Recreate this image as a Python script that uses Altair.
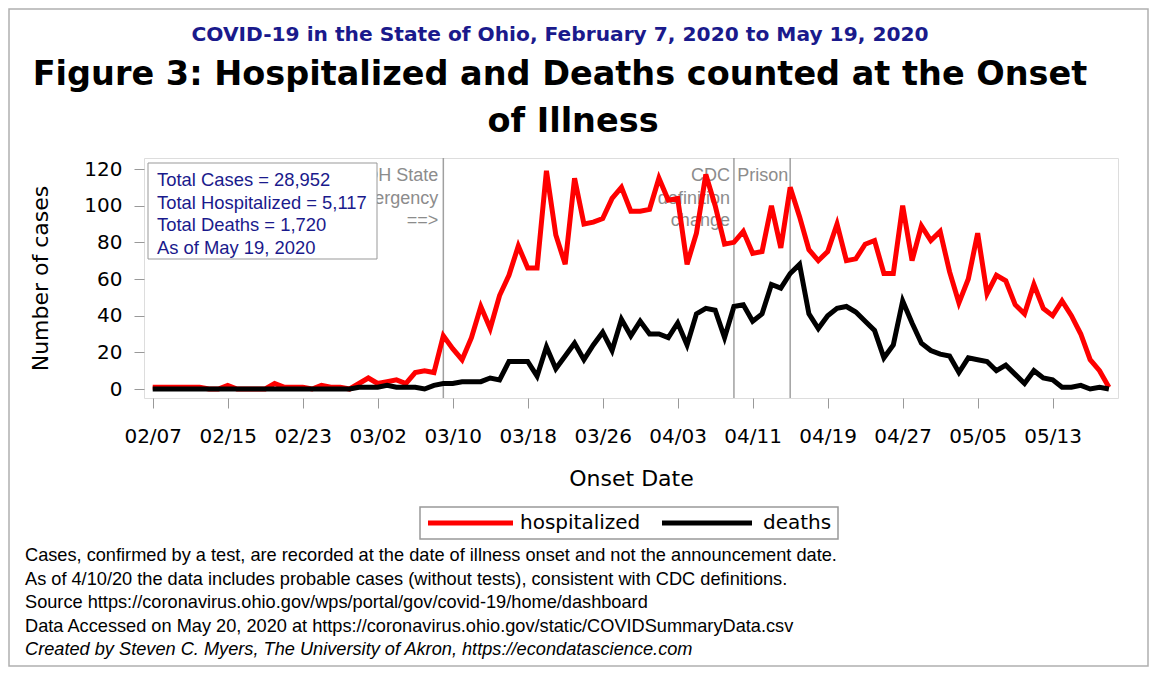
import altair as alt
import pandas as pd

# ---------------- data ----------------
start_date = "2020-02-07"
end_date = "2020-05-19"
dates = pd.date_range(start_date, end_date, freq="D").strftime("%Y-%m-%d").tolist()

hospitalized = [
    1, 1, 1, 1, 1, 1, 0, 0, 2, 0, 0, 0, 0, 3, 1, 1, 1, 0, 2, 1, 1, 0, 3, 6, 3, 4, 5, 3, 9, 10, 9,
    29, 22, 16, 28, 45, 33, 51, 62, 78, 66, 66, 119, 84, 68, 115, 90, 91, 93, 104, 110,
    97, 97, 98, 115, 103, 104, 68, 85, 117, 100, 79, 80, 86, 74, 75, 100, 77, 110,
    94, 76, 70, 75, 90, 70, 71, 79, 81, 63, 63, 100, 70, 89, 81, 86, 64, 47,
    60, 85, 52, 62, 59, 46, 41, 57, 44, 40, 48, 40, 30, 16, 10, 1,
]
deaths = [
    0, 0, 0, 0, 0, 0, 0, 0, 0, 0, 0, 0, 0, 0, 0, 0, 0, 0, 0, 0, 0, 0, 1, 1, 1, 2, 1, 1, 1, 0, 2,
    3, 3, 4, 4, 4, 6, 5, 15, 15, 15, 7, 23, 11, 18, 25, 16, 24, 31, 21, 38,
    29, 37, 30, 30, 28, 36, 24, 41, 44, 43, 28, 45, 46, 37, 41, 57, 55, 63,
    68, 41, 33, 40, 44, 45, 42, 37, 32, 17, 24, 48, 36, 25, 21, 19, 18, 9,
    17, 16, 15, 10, 13, 8, 3, 10, 6, 5, 1, 1, 2, 0, 1, 0,
]
series_names = ["hospitalized", "deaths"]
series_colors = ["#ff0000", "#000000"]

tick_labels = ["02/07", "02/15", "02/23", "03/02", "03/10", "03/18", "03/26",
               "04/03", "04/11", "04/19", "04/27", "05/05", "05/13"]
y_ticks = [0, 20, 40, 60, 80, 100, 120]

event_dates = ["2020-03-09", "2020-04-09", "2020-04-15"]
event_odh = ["ODH State", "Emergency", "==>"]
event_cdc = ["CDC", "definition", "change"]
event_prison = ["Prison"]

box_lines = ["Total Cases = 28,952", "Total Hospitalized = 5,117",
             "Total Deaths = 1,720", "As of May 19, 2020"]
subtitle_text = "COVID-19 in the State of Ohio, February 7, 2020 to May 19, 2020"
title_line1 = "Figure 3: Hospitalized and Deaths counted at the Onset"
title_line2 = "of Illness"
footnotes = [
    "Cases, confirmed by a test, are recorded at the date of illness onset and not the announcement date.",
    "As of 4/10/20 the data includes probable cases (without tests), consistent with CDC definitions.",
    "Source https://coronavirus.ohio.gov/wps/portal/gov/covid-19/home/dashboard",
    "Data Accessed on May 20, 2020 at https://coronavirus.ohio.gov/static/COVIDSummaryData.csv",
]
credit = "Created by Steven C. Myers, The University of Akron, https://econdatascience.com"

# ---------------- tables ----------------
t0 = pd.Timestamp(start_date)
day_index = [(pd.Timestamp(d) - t0).days for d in dates]
rows = []
for name, vals in zip(series_names, [hospitalized, deaths]):
    for d, dd, v in zip(dates, day_index, vals):
        rows.append({"date": d, "day": dd, "series": name, "value": v})
df = pd.DataFrame(rows)
events = pd.DataFrame({"day": [(pd.Timestamp(d) - t0).days for d in event_dates]})
one = alt.InlineData(values=[{}])

# ---------------- scales ----------------
W, H = 974, 240
xscale = alt.Scale(domain=[-0.93, 102.97], nice=False, zero=False)
yscale = alt.Scale(domain=[-4.9, 126], nice=False, zero=False)
label_expr = "[" + ",".join(f"'{t}'" for t in tick_labels) + "][round(datum.value/8)]"

AX = "DejaVu Sans"
TX = "Liberation Sans"

x_enc = alt.X("day:Q", scale=xscale, axis=alt.Axis(
    values=[8 * i for i in range(len(tick_labels))], labelExpr=label_expr,
    title="Onset Date", titleFont=AX, titleFontSize=22, titleFontWeight="normal",
    titleColor="black", titlePadding=22,
    labelFont=AX, labelFontSize=20, labelColor="black", labelPadding=18,
    tickSize=10, tickColor="#999999", domain=False, grid=False))
y_enc = alt.Y("value:Q", scale=yscale, axis=alt.Axis(
    values=y_ticks, title="Number of cases", titleFont=AX, titleFontSize=22,
    titleFontWeight="normal", titleColor="black", titlePadding=31,
    labelFont=AX, labelFontSize=20, labelColor="black", labelPadding=12,
    tickSize=10, tickColor="#999999", domain=False, grid=False))
color_enc = alt.Color("series:N", scale=alt.Scale(domain=series_names, range=series_colors),
                      legend=None)

base = alt.Chart(df)
line_h = base.transform_filter(alt.datum.series == "hospitalized").mark_line(
    strokeWidth=5, strokeJoin="miter").encode(x=x_enc, y=y_enc, color=color_enc)
line_d = base.transform_filter(alt.datum.series == "deaths").mark_line(
    strokeWidth=5, strokeJoin="miter").encode(x=x_enc, y=y_enc, color=color_enc)

rules = alt.Chart(events).mark_rule(color="#a0a0a0", strokeWidth=1.5).encode(
    x=alt.X("day:Q", scale=xscale))

GRAY = "#8c8c8c"
odh = alt.Chart(one).mark_text(align="right", baseline="middle", font=TX, fontSize=18,
    color=GRAY, lineHeight=22.5, dx=-5).encode(
    x=alt.X(datum=(pd.Timestamp(event_dates[0]) - t0).days, scale=xscale),
    y=alt.value(18), text=alt.value(event_odh))
cdc = alt.Chart(one).mark_text(align="right", baseline="middle", font=TX, fontSize=18,
    color=GRAY, lineHeight=22.5, dx=-4).encode(
    x=alt.X(datum=(pd.Timestamp(event_dates[1]) - t0).days, scale=xscale),
    y=alt.value(18), text=alt.value(event_cdc))
prison = alt.Chart(one).mark_text(align="right", baseline="middle", font=TX, fontSize=18,
    color=GRAY, dx=-2).encode(
    x=alt.X(datum=(pd.Timestamp(event_dates[2]) - t0).days, scale=xscale),
    y=alt.value(18), text=alt.value(event_prison[0]))

box = alt.Chart(one).mark_rect(fill="white", stroke="#999999", strokeWidth=1).encode(
    x=alt.value(4), x2=alt.value(233), y=alt.value(5), y2=alt.value(101))
box_text = alt.Chart(one).mark_text(align="left", baseline="middle", font=TX, fontSize=18.4,
    color="#1a1a8c", lineHeight=22.7).encode(
    x=alt.value(13), y=alt.value(22), text=alt.value(box_lines))

sub = alt.Chart(one).mark_text(align="center", baseline="middle", font="DejaVu Sans",
    fontSize=20.2, fontWeight="bold", color="#1a1a8c").encode(
    x=alt.value(416), y=alt.value(-123), text=alt.value(subtitle_text))
t1 = alt.Chart(one).mark_text(align="center", baseline="middle", font="DejaVu Sans",
    fontSize=33.5, fontWeight="bold", color="black").encode(
    x=alt.value(416), y=alt.value(-83), text=alt.value(title_line1))
t2 = alt.Chart(one).mark_text(align="center", baseline="middle", font="DejaVu Sans",
    fontSize=33.5, fontWeight="bold", color="black").encode(
    x=alt.value(429), y=alt.value(-36), text=alt.value(title_line2))

# ---------------- legend (drawn by hand, box below the x title) ----------------
leg_box = alt.Chart(one).mark_rect(fill="white", stroke="#999999", strokeWidth=1.5).encode(
    x=alt.value(276), x2=alt.value(694), y=alt.value(349), y2=alt.value(381))
leg_h = alt.Chart(one).mark_rule(strokeWidth=5, color=series_colors[0]).encode(
    x=alt.value(284), x2=alt.value(369), y=alt.value(365))
leg_d = alt.Chart(one).mark_rule(strokeWidth=5, color=series_colors[1]).encode(
    x=alt.value(518), x2=alt.value(608), y=alt.value(365))
leg_th = alt.Chart(one).mark_text(align="left", baseline="middle", font=AX, fontSize=20,
    color="black").encode(x=alt.value(376), y=alt.value(365), text=alt.value(series_names[0]))
leg_td = alt.Chart(one).mark_text(align="left", baseline="middle", font=AX, fontSize=20,
    color="black").encode(x=alt.value(619), y=alt.value(365), text=alt.value(series_names[1]))

foot = alt.Chart(one).mark_text(align="left", baseline="middle", font=TX, fontSize=18.2,
    color="black", lineHeight=23.6).encode(
    x=alt.value(-119), y=alt.value(398), text=alt.value(footnotes))
foot2 = alt.Chart(one).mark_text(align="left", baseline="middle", font=TX, fontSize=18.2,
    fontStyle="italic", color="black").encode(
    x=alt.value(-119), y=alt.value(492), text=alt.value(credit))

border = alt.Chart(one).mark_rect(fill=None, stroke="#b0b0b0", strokeWidth=1.5).encode(
    x=alt.value(-135), x2=alt.value(1004), y=alt.value(-149), y2=alt.value(508))

chart = alt.layer(
    border, rules, odh, cdc, prison, line_h, line_d, box, box_text,
    sub, t1, t2, leg_box, leg_h, leg_d, leg_th, leg_td, foot, foot2,
).properties(
    width=W, height=H,
    autosize=alt.AutoSizeParams(type="none"),
    padding={"left": 136, "top": 150, "right": 31, "bottom": 269},
).configure_view(stroke="#999999", strokeWidth=1.5).configure(background="white")

chart.save("out.html", embed_options={"renderer": "svg", "actions": False})
